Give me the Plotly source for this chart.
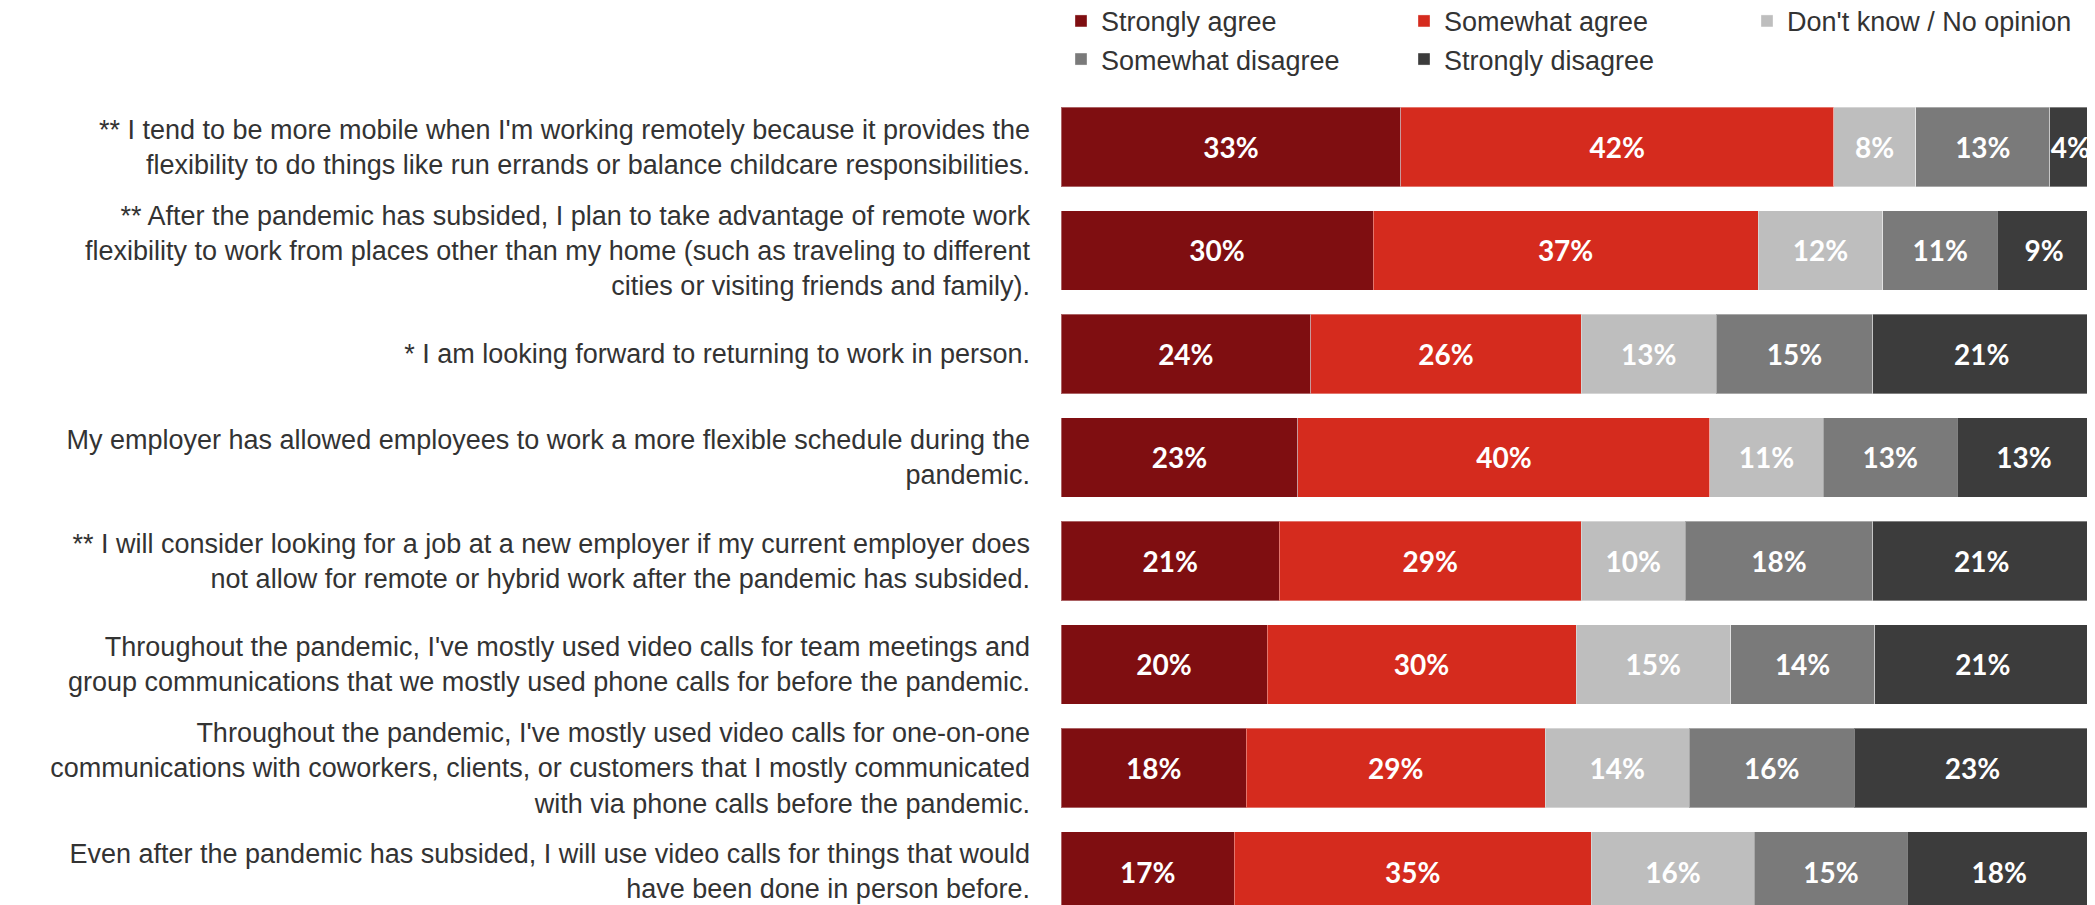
import plotly.graph_objects as go

statements = [
    "** I tend to be more mobile when I'm working remotely because it provides the<br>"
    "flexibility to do things like run errands or balance childcare responsibilities.",
    "** After the pandemic has subsided, I plan to take advantage of remote work<br>"
    "flexibility to work from places other than my home (such as traveling to different<br>"
    "cities or visiting friends and family).",
    "* I am looking forward to returning to work in person.",
    "My employer has allowed employees to work a more flexible schedule during the<br>"
    "pandemic.",
    "** I will consider looking for a job at a new employer if my current employer does<br>"
    "not allow for remote or hybrid work after the pandemic has subsided.",
    "Throughout the pandemic, I've mostly used video calls for team meetings and<br>"
    "group communications that we mostly used phone calls for before the pandemic.",
    "Throughout the pandemic, I've mostly used video calls for one-on-one<br>"
    "communications with coworkers, clients, or customers that I mostly communicated<br>"
    "with via phone calls before the pandemic.",
    "Even after the pandemic has subsided, I will use video calls for things that would<br>"
    "have been done in person before.",
]

responses = ["Strongly agree", "Somewhat agree", "Don't know / No opinion",
             "Somewhat disagree", "Strongly disagree"]
colors = ["#7f0e11", "#d52b1e", "#bebebe", "#7a7a7a", "#3c3c3c"]

strongly_agree = [33, 30, 24, 23, 21, 20, 18, 17]
somewhat_agree = [42, 37, 26, 40, 29, 30, 29, 35]
dont_know = [8, 12, 13, 11, 10, 15, 14, 16]
somewhat_disagree = [13, 11, 15, 13, 18, 14, 16, 15]
strongly_disagree = [4, 9, 21, 13, 21, 21, 23, 18]

series = [strongly_agree, somewhat_agree, dont_know, somewhat_disagree, strongly_disagree]

fig = go.Figure()
for name, vals, col in zip(responses, series, colors):
    fig.add_trace(go.Bar(
        y=statements, x=vals, name=name, orientation="h",
        marker=dict(color=col, line=dict(color="rgba(255,255,255,0.35)", width=1)),
        width=0.765,
        text=[f"{v}%" for v in vals], textposition="inside", textangle=0,
        insidetextanchor="middle", constraintext="none",
        textfont=dict(family="Lato", size=28, color="white", weight="bold"),
        hoverinfo="skip",
    ))

fig.update_layout(
    width=2095, height=905,
    barmode="stack", barnorm="percent",
    plot_bgcolor="white", paper_bgcolor="white",
    margin=dict(l=1053, r=12, t=95, b=0, autoexpand=False),
    font=dict(family="Liberation Sans", color="#333333", size=27),
    legend=dict(orientation="h", x=0.0, xanchor="left", y=1.131, yanchor="top",
                entrywidth=298, font=dict(size=27, color="#333333"),
                traceorder="normal", itemwidth=30),
    bargap=0.23,
)
fig.update_xaxes(range=[0, 100], visible=False)
fig.update_yaxes(range=[7.401, -0.425], showgrid=False, showline=False,
                 ticks="", ticklabelstandoff=30,
                 tickfont=dict(size=27, color="#333333"))

fig.write_html("out.html")
